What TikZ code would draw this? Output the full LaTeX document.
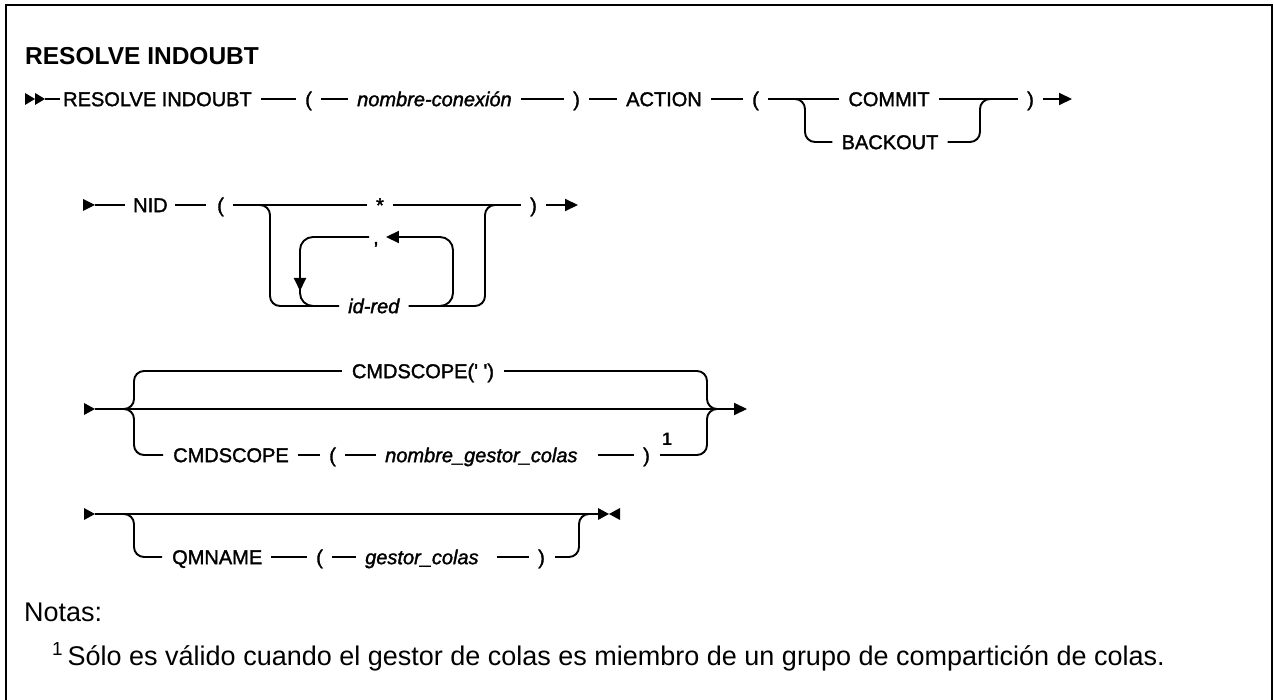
\documentclass[tikz,border=0pt]{standalone}
\usepackage{fontspec}
\setmainfont{Liberation Sans}
\font\diagrm="Liberation Sans:embolden=1.6" at 20pt
\font\diagit="Liberation Sans/I:embolden=1.6" at 20pt
\font\diagsup="Liberation Sans/B" at 18pt
\usetikzlibrary{arrows.meta}
\tikzset{
  kw/.style={font=\diagrm, inner sep=0pt, anchor=west, text height=14.3pt, text depth=0pt},
  var/.style={kw, font=\diagit},
  ln/.style={line width=1.9pt},
  br/.style={ln, rounded corners=10pt},
  gap/.style={ln, shorten <=9pt, shorten >=9pt},
  arr/.style={-{Triangle[length=13pt,width=12pt]}},
  note/.style={font=\fontsize{27}{32}\selectfont, anchor=base west, inner sep=0pt},
}
\begin{document}
\begin{tikzpicture}[x=1pt,y=-1pt]
\useasboundingbox (0,0) rectangle (1274,700);
\draw[line width=2.5pt] (6,700) -- (6,5) -- (1272,5) -- (1272,700);
\node[anchor=base west, inner sep=0pt, font=\bfseries\fontsize{24.5}{28}\selectfont] (ttl) at (25,65) {RESOLVE INDOUBT};

% ---------- row 1
\coordinate (s1) at (45,99);
\fill (25,93) -- (35,99) -- (25,105) -- cycle;
\fill (35,93) -- (45,99) -- (35,105) -- cycle;
\node[kw] (rsv) at (63,99) {RESOLVE INDOUBT};
\node[kw] (lp1) at (305,99) {(};
\node[var] (cnx) at (357,99) {nombre-conexión};
\node[kw] (rp1) at (573,99) {)};
\node[kw] (act) at (626,99) {ACTION};
\node[kw] (lp2) at (752,99) {(};
\node[kw,anchor=center] (cmt) at (889,99) {COMMIT};
\node[kw,anchor=center] (bko) at (890,142) {BACKOUT};
\node[kw] (rp2) at (1027,99) {)};
\coordinate (j1l) at (795,99);
\coordinate (b1l) at (805,142);
\coordinate (b1r) at (980,142);
\coordinate (j1r) at (990,99);
\coordinate (e1) at (1072,99);
\draw[ln, shorten >=3pt] (s1) -- (rsv.west);
\draw[gap] (rsv.east) -- (lp1.west);
\draw[gap] (lp1.east) -- (cnx.west);
\draw[gap] (cnx.east) -- (rp1.west);
\draw[gap] (rp1.east) -- (act.west);
\draw[gap] (act.east) -- (lp2.west);
\draw[gap] (lp2.east) -- (cmt.west);
\draw[gap] (cmt.east) -- (rp2.west);
\draw[br] (j1l) -| (b1l) -- ([xshift=-9pt]bko.west);
\draw[br] ([xshift=9pt]bko.east) -- (b1r) |- (j1r);
\draw[ln, arr, shorten <=9pt] (rp2.east) -- (e1);

% ---------- row 2
\coordinate (s2) at (95,205);
\fill (83,199) -- (95,205) -- (83,211) -- cycle;
\node[kw] (nid) at (133,205) {NID};
\node[kw] (lp3) at (217,205) {(};
\node[kw,anchor=center] (star) at (380,205) {*};
\node[kw] (rp3) at (530,205) {)};
\node[var] (idr) at (348,306) {id-red};
\node[kw] (cma) at (373,237) {,};
\coordinate (j2l) at (260,205);
\coordinate (b2l) at (270,306);
\coordinate (b2r) at (485,306);
\coordinate (j2r) at (495,205);
\coordinate (e2) at (578,205);
\coordinate (ir0) at (425,306);
\coordinate (ir1) at (453,306);
\coordinate (ir2) at (453,237);
\coordinate (il1) at (300,237);
\coordinate (il2) at (300,306);
\coordinate (il3) at (335,306);
\coordinate (il4) at (300,262);
\coordinate (il5) at (300,291);
\draw[ln, shorten >=8pt] (s2) -- (nid.west);
\draw[ln, shorten <=7pt, shorten >=11pt] (nid.east) -- (lp3.west);
\draw[gap] (lp3.east) -- (star.west);
\draw[gap] (star.east) -- (rp3.west);
\draw[ln, arr, shorten <=9pt] (rp3.east) -- (e2);
\draw[br] (j2l) -| (b2l) -- ([xshift=-9pt]idr.west);
\draw[br] ([xshift=9pt]idr.east) -- (b2r) |- (j2r);
\draw[ln, rounded corners=13pt, arr] (ir0) -- (ir1) -- (ir2) -- ([xshift=7pt]cma.east);
\draw[ln, rounded corners=13pt] ([xshift=-4pt]cma.west) -- (il1) -- (il2) -- (il3);
\draw[ln, arr] (il4) -- (il5);

% ---------- row 3
\coordinate (s3) at (95,409);
\fill (84,403) -- (95,409) -- (84,415) -- cycle;
\coordinate (e3) at (747,409);
\coordinate (j3l) at (124,409);
\coordinate (t3l) at (134,371);
\coordinate (b3l) at (134,455);
\coordinate (t3r) at (707,371);
\coordinate (b3r) at (707,455);
\coordinate (j3r) at (717,409);
\draw[ln, arr] (s3) -- (e3);
\node[kw,anchor=center] (cmq) at (423,371) {CMDSCOPE(\char"27{} \char"27)};
\node[kw] (cms) at (173,455) {CMDSCOPE};
\node[kw] (lp4) at (329,455) {(};
\node[var] (ngc) at (385,455) {nombre\char"5F gestor\char"5F colas};
\node[kw] (rp4) at (643,455) {)};
\node[inner sep=0pt, font=\diagsup] (sup1) at (667,439) {1};
\draw[br] (j3l) -| (t3l) -- ([xshift=-10pt]cmq.west);
\draw[br] ([xshift=10pt]cmq.east) -- (t3r) |- (j3r);
\draw[br] (j3l) -| (b3l) -- ([xshift=-10pt]cms.west);
\draw[gap] (cms.east) -- (lp4.west);
\draw[gap] (lp4.east) -- (ngc.west);
\draw[gap, shorten <=20pt] (ngc.east) -- (rp4.west);
\draw[br] ([xshift=10pt]rp4.east) -- (b3r) |- (j3r);

% ---------- row 4
\coordinate (s4) at (95,514);
\fill (84,508) -- (95,514) -- (84,520) -- cycle;
\coordinate (e4) at (598,514);
\coordinate (j4l) at (124,514);
\coordinate (b4l) at (134,557);
\coordinate (b4r) at (579,557);
\coordinate (j4r) at (589,514);
\draw[ln] (s4) -- (e4);
\fill (598,508) -- (609,514) -- (598,520) -- cycle;
\fill (620,508) -- (609,514) -- (620,520) -- cycle;
\node[kw] (qmn) at (172,557) {QMNAME};
\node[kw] (lp5) at (316,557) {(};
\node[var] (gcl) at (365,557) {gestor\char"5F colas};
\node[kw] (rp5) at (538,557) {)};
\draw[br] (j4l) -| (b4l) -- ([xshift=-10pt]qmn.west);
\draw[gap] (qmn.east) -- (lp5.west);
\draw[gap] (lp5.east) -- (gcl.west);
\draw[gap, shorten <=18pt] (gcl.east) -- (rp5.west);
\draw[br] ([xshift=10pt]rp5.east) -- (b4r) |- (j4r);

% ---------- notes
\node[note] (nts) at (24,621) {Notas:};
\node[note] (fn) at (52,665) {\textsuperscript{1}\,Sólo es válido cuando el gestor de colas es miembro de un grupo de compartición de colas.};
\end{tikzpicture}
\end{document}
